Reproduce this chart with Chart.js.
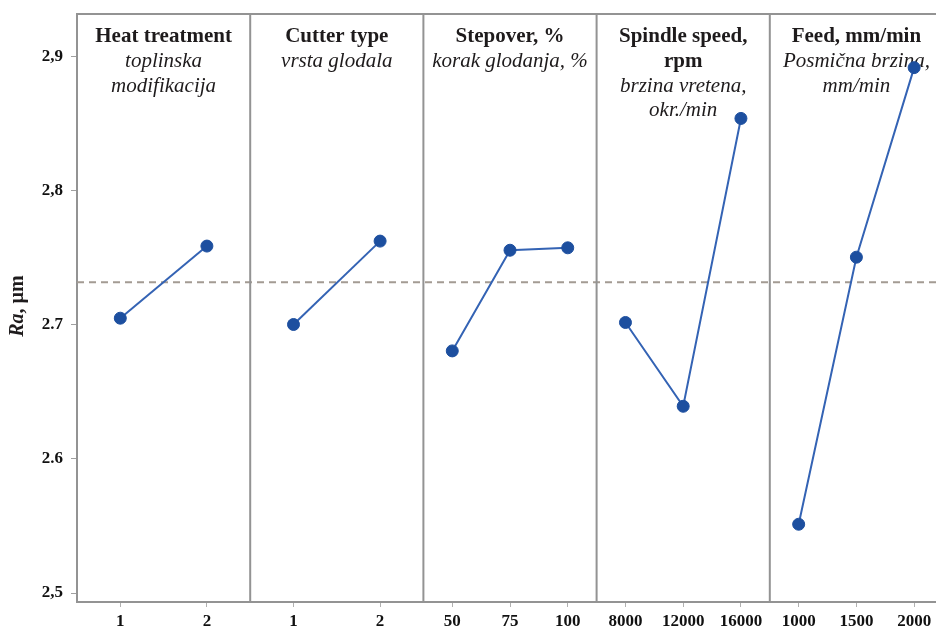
<!DOCTYPE html>
<html>
<head>
<meta charset="utf-8">
<script src="https://cdn.jsdelivr.net/npm/chart.js@4.4.1/dist/chart.umd.min.js"></script>
<style>
  html, body { margin: 0; padding: 0; background: #fff; overflow: hidden; }
  #wrap { width: 950px; height: 630px; }
</style>
</head>
<body>
<div id="wrap"><canvas id="c" width="950" height="630"></canvas></div>
<script>
// ---- data ----
const heatLabels = ['1', '2'];
const heatValues = [2.705, 2.7588];
const cutterLabels = ['1', '2'];
const cutterValues = [2.7003, 2.7625];
const stepoverLabels = ['50', '75', '100'];
const stepoverValues = [2.6806, 2.7557, 2.7575];
const spindleLabels = ['8000', '12000', '16000'];
const spindleValues = [2.7018, 2.6393, 2.854];
const feedLabels = ['1000', '1500', '2000'];
const feedValues = [2.5513, 2.7505, 2.8919];
const meanValue = 2.7319;
const yTickValues = [2.5, 2.6, 2.7, 2.8, 2.9];
const yTickLabels = ['2,5', '2.6', '2.7', '2,8', '2,9'];
const panelBold = [['Heat treatment'], ['Cutter type'], ['Stepover, %'], ['Spindle speed,', 'rpm'], ['Feed, mm/min']];
const panelItalic = [['toplinska', 'modifikacija'], ['vrsta glodala'], ['korak glodanja, %'], ['brzina vretena,', 'okr./min'], ['Posmična brzina,', 'mm/min']];
const yTitleItalic = 'Ra';
const yTitleRest = ', µm';

const panelLabels = [heatLabels, cutterLabels, stepoverLabels, spindleLabels, feedLabels];
const panelValues = [heatValues, cutterValues, stepoverValues, spindleValues, feedValues];

// ---- style ----
const SERIF = '"Liberation Serif", "Times New Roman", serif';
const FRAME = '#939393';
const POINT = '#1d4f9f';
const LINE = '#3463b4';

const scales = {
  y: {
    type: 'linear', position: 'left',
    min: 2.4933, max: 2.9319,
    afterBuildTicks: (s) => { s.ticks = yTickValues.map(v => ({ value: v })); },
    afterFit: (s) => { s.width = 77; s.paddingTop = 0; s.paddingBottom = 0; },
    ticks: {
      callback: (v) => { const i = yTickValues.findIndex(t => Math.abs(t - v) < 1e-9); return i >= 0 ? yTickLabels[i] : ''; },
      font: { family: SERIF, size: 17, weight: 'bold' }, color: '#111', padding: 8
    },
    grid: { drawOnChartArea: false, drawTicks: true, tickLength: 6, color: '#a0a0a0' },
    border: { display: true, color: FRAME, width: 2 }
  }
};
const datasets = [];
panelLabels.forEach((labs, i) => {
  const id = 'x' + i;
  scales[id] = {
    type: 'category', axis: 'x', position: 'bottom', stack: 'panels', stackWeight: 1,
    labels: labs, offset: true,
    afterFit: (s) => { s.height = 28; s.paddingLeft = 0; s.paddingRight = 0; },
    ticks: { font: { family: SERIF, size: 17, weight: 'bold' }, color: '#111', padding: 4, maxRotation: 0, autoSkip: false },
    grid: { drawOnChartArea: false, drawTicks: true, tickLength: 5, offset: false, color: '#b0b0b0' },
    border: { display: true, color: FRAME, width: 2 }
  };
  datasets.push({
    data: panelValues[i], xAxisID: id, yAxisID: 'y',
    borderColor: LINE, borderWidth: 2,
    pointBackgroundColor: POINT, pointBorderColor: POINT, pointRadius: 6, pointBorderWidth: 1,
    pointStyle: 'circle', tension: 0, fill: false
  });
});

const framePlugin = {
  id: 'frame',
  beforeDatasetsDraw(chart) {
    const { ctx, chartArea } = chart;
    const y = chart.scales.y;
    ctx.save();
    // mean line
    const my = y.getPixelForValue(meanValue);
    ctx.strokeStyle = '#a39b93';
    ctx.lineWidth = 2;
    ctx.setLineDash([7, 5]);
    ctx.beginPath();
    ctx.moveTo(chartArea.left, my);
    ctx.lineTo(chartArea.right, my);
    ctx.stroke();
    ctx.setLineDash([]);
    // frame
    ctx.strokeStyle = FRAME;
    ctx.lineWidth = 2;
    ctx.beginPath();
    ctx.moveTo(chartArea.left, chartArea.top);
    ctx.lineTo(chartArea.right, chartArea.top);
    for (let i = 0; i < panelLabels.length; i++) {
      const s = chart.scales['x' + i];
      ctx.moveTo(s.right, chartArea.top);
      ctx.lineTo(s.right, chartArea.bottom);
    }
    ctx.stroke();
    // panel titles
    ctx.fillStyle = '#1e1b1c';
    ctx.textAlign = 'center';
    ctx.textBaseline = 'alphabetic';
    const lh = 24.8;
    for (let i = 0; i < panelLabels.length; i++) {
      const s = chart.scales['x' + i];
      const cx = (s.left + s.right) / 2;
      let by = chartArea.top + 28;
      ctx.font = 'bold 21px ' + SERIF;
      panelBold[i].forEach(t => { ctx.fillText(t, cx, by); by += lh; });
      ctx.font = 'italic 21px ' + SERIF;
      panelItalic[i].forEach(t => { ctx.fillText(t, cx, by); by += lh; });
    }
    // y title
    ctx.translate(18, (chartArea.top + chartArea.bottom) / 2 - 2);
    ctx.rotate(-Math.PI / 2);
    ctx.textBaseline = 'middle';
    ctx.textAlign = 'left';
    ctx.font = 'bold italic 20px ' + SERIF;
    const w1 = ctx.measureText(yTitleItalic).width;
    ctx.font = 'bold 20px ' + SERIF;
    const w2 = ctx.measureText(yTitleRest).width;
    const x0 = -(w1 + w2) / 2;
    ctx.font = 'bold italic 20px ' + SERIF;
    ctx.fillText(yTitleItalic, x0, 0);
    ctx.font = 'bold 20px ' + SERIF;
    ctx.fillText(yTitleRest, x0 + w1, 0);
    ctx.restore();
  }
};

new Chart(document.getElementById('c'), {
  type: 'line',
  data: { datasets },
  options: {
    responsive: false, animation: false, devicePixelRatio: 1,
    layout: { padding: { left: 0, right: 7, top: 14, bottom: 0 } },
    plugins: { legend: { display: false }, tooltip: { enabled: false }, title: { display: false } },
    scales
  },
  plugins: [framePlugin]
});
</script>
</body>
</html>
